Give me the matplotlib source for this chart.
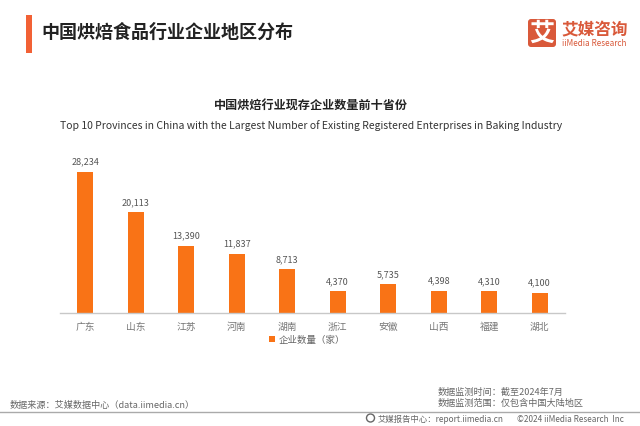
import matplotlib
matplotlib.use('Agg')
import matplotlib.pyplot as plt
from matplotlib.patches import Rectangle, FancyBboxPatch, Circle

plt.rcParams['font.family'] = ['Noto Sans CJK SC', 'DejaVu Sans']

# 数据
provinces = ['广东', '山东', '江苏', '河南', '湖南', '浙江', '安徽', '山西', '福建', '湖北']
counts = [28234, 20113, 13390, 11837, 8713, 4370, 5735, 4398, 4310, 4100]
count_labels = ['28,234', '20,113', '13,390', '11,837', '8,713', '4,370', '5,735', '4,398', '4,310', '4,100']

W, H = 640, 427
fig = plt.figure(figsize=(W / 100, H / 100), dpi=100, facecolor='white')

# 背景层，用像素坐标放页面元素
bg = fig.add_axes([0, 0, 1, 1])
bg.set_xlim(0, W)
bg.set_ylim(H, 0)
bg.axis('off')

# 柱状图
ax = fig.add_axes([60 / W, (H - 314) / H, 505 / W, 164 / H])
ax.patch.set_alpha(0)
ax.bar(range(len(provinces)), counts, width=0.32, color='#F97316', label='企业数量（家）')
ax.set_xlim(-0.5, 9.5)
ax.set_ylim(0, 32800)
ax.set_yticks([])
ax.set_xticks(range(len(provinces)))
ax.set_xticklabels(provinces, fontsize=7, color='#777777')
ax.tick_params(axis='x', length=0, pad=5.5)
for s in ['top', 'left', 'right']:
    ax.spines[s].set_visible(False)
ax.spines['bottom'].set_color('#C8C8C8')
ax.spines['bottom'].set_linewidth(1)

for i, v in enumerate(counts):
    ax.annotate(count_labels[i], (i, v), xytext=(0, 4.5), textcoords='offset points',
                ha='center', va='bottom', fontsize=6.5, color='#555555')

ax.legend(loc='upper center', bbox_to_anchor=(0.489, -0.135), frameon=False, fontsize=6.8,
          labelcolor='#666666', handlelength=0.6, handleheight=0.6, handletextpad=0.4,
          borderpad=0, borderaxespad=0)

# 标题
bg.add_patch(Rectangle((26, 16), 5.5, 38, color='#F26135', lw=0))
bg.text(41, 32, '中国烘焙食品行业企业地区分布', fontsize=13, fontweight='bold',
        color='#222222', va='center', ha='left')
bg.text(311, 105, '中国烘焙行业现存企业数量前十省份', fontsize=8.7, fontweight='bold',
        color='#222222', va='center', ha='center')
bg.text(311, 126, 'Top 10 Provinces in China with the Largest Number of Existing Registered Enterprises in Baking Industry',
        fontsize=7.5, color='#333333', va='center', ha='center')

# logo
logo_color = '#D9593A'
bg.add_patch(FancyBboxPatch((528, 20), 28, 28, boxstyle='round,pad=0,rounding_size=3',
                            color=logo_color, lw=0))
bg.text(542, 33.5, '艾', fontsize=18, fontweight='bold', color='white', ha='center', va='center')
bg.text(561, 30.5, '艾媒咨询', fontsize=12, fontweight='bold', color=logo_color, ha='left', va='center')
bg.text(562, 43.5, 'iiMedia Research', fontsize=5.9, color=logo_color, ha='left', va='center')

# 底部信息
bg.text(10, 405, '数据来源：艾媒数据中心（data.iimedia.cn）', fontsize=6.55, color='#666666',
        va='center', ha='left')
bg.text(438, 392, '数据监测时间：截至2024年7月', fontsize=6.55, color='#666666', va='center', ha='left')
bg.text(438, 403.5, '数据监测范围：仅包含中国大陆地区', fontsize=6.55, color='#666666', va='center', ha='left')
bg.plot([0, 640], [412.5, 412.5], color='#AAAAAA', lw=1)
bg.add_patch(Circle((370.5, 419), 4, fill=False, ec='#666666', lw=1))
bg.text(378, 419.5, '艾媒报告中心：report.iimedia.cn', fontsize=6, color='#666666', va='center', ha='left')
bg.text(517, 419.5, '©2024 iiMedia Research  Inc', fontsize=5.9, color='#666666', va='center', ha='left')

fig.savefig('out.png', dpi=100)
